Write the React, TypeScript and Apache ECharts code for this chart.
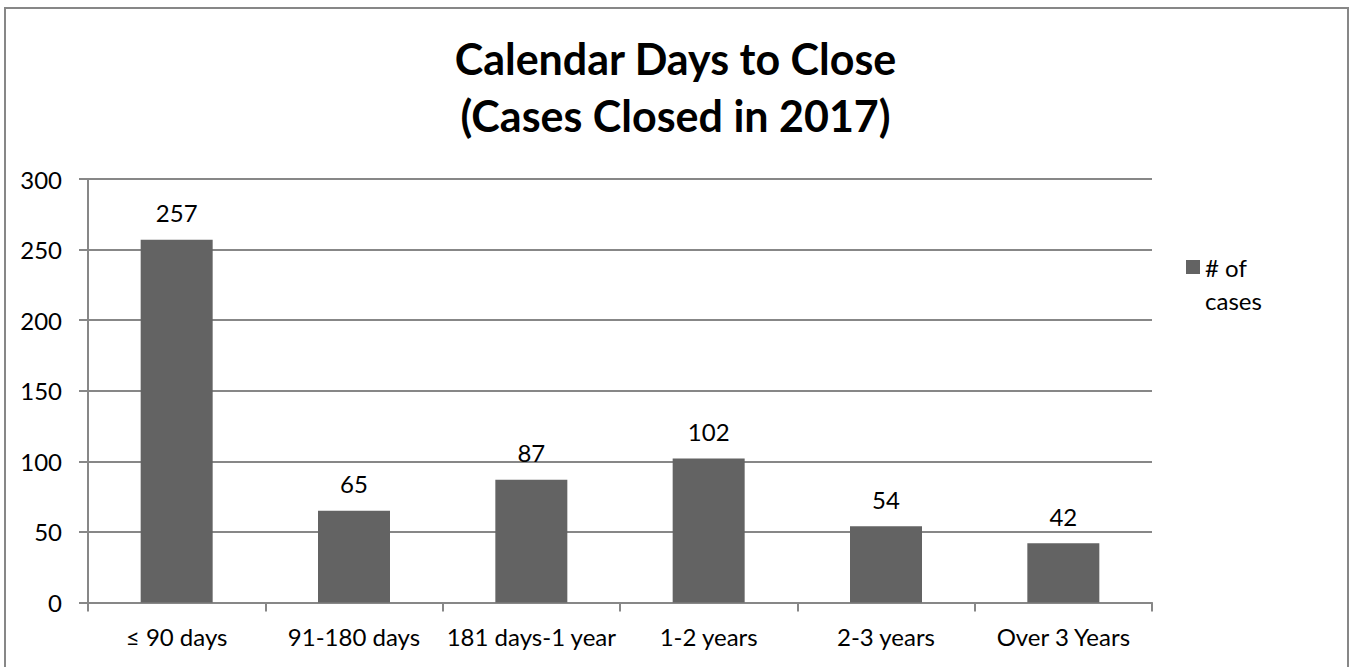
import React, { useEffect, useRef } from "react";
import * as echarts from "echarts";

const categories = ["≤ 90 days", "91-180 days", "181 days-1 year", "1-2 years", "2-3 years", "Over 3 Years"];
const caseCounts = [257, 65, 87, 102, 54, 42];
const seriesName = "# of cases";
const legendLines = [" ", "# of", "cases"];
const titleLines = ["Calendar Days to Close", "(Cases Closed in 2017)"];
const yMin = 0;
const yMax = 300;
const yInterval = 50;

const FONT = "Lato";
const GRID_COLOR = "#878787";
const BAR_COLOR = "#636363";

export default function App() {
  const ref = useRef<HTMLDivElement>(null);
  useEffect(() => {
    if (!ref.current) return;
    const chart = echarts.init(ref.current, undefined, { renderer: "svg" });
    chart.setOption({
      animation: false,
      backgroundColor: "#ffffff",
      textStyle: { fontFamily: FONT },
      title: {
        text: titleLines.join("\n"),
        left: "center",
        top: 25,
        textStyle: {
          fontFamily: FONT,
          fontWeight: "bold",
          fontSize: 43,
          lineHeight: 57,
          color: "#000000",
        },
      },
      legend: {
        show: true,
        left: 1186,
        top: 217.5,
        padding: 0,
        orient: "vertical",
        itemWidth: 14,
        itemHeight: 14,
        icon: "rect",
        data: [seriesName],
        formatter: () => legendLines.join("\n"),
        textStyle: {
          fontFamily: FONT,
          fontSize: 24,
          lineHeight: 33,
          color: "#000000",
        },
      },
      grid: {
        left: 88,
        right: 199,
        top: 179,
        bottom: 667 - 602.5,
        containLabel: false,
      },
      xAxis: {
        type: "category",
        data: categories,
        axisLine: { show: true, lineStyle: { color: GRID_COLOR, width: 2 } },
        axisTick: { show: true, length: 9, lineStyle: { color: GRID_COLOR, width: 2 } },
        axisLabel: { fontFamily: FONT, fontSize: 24, color: "#000000", margin: 22, interval: 0 },
      },
      yAxis: {
        type: "value",
        min: yMin,
        max: yMax,
        interval: yInterval,
        axisLine: { show: true, lineStyle: { color: GRID_COLOR, width: 2 } },
        axisTick: { show: true, length: 9, lineStyle: { color: GRID_COLOR, width: 2 } },
        splitLine: { show: true, lineStyle: { color: GRID_COLOR, width: 2 } },
        axisLabel: { fontFamily: FONT, fontSize: 24, color: "#000000", margin: 26 },
      },
      series: [
        {
          name: seriesName,
          type: "bar",
          data: caseCounts,
          barWidth: "40.6%",
          itemStyle: { color: BAR_COLOR },
          label: {
            show: true,
            position: "top",
            distance: 15,
            fontFamily: FONT,
            fontSize: 24,
            color: "#000000",
          },
        },
      ],
      graphic: [
        {
          type: "rect",
          shape: { x: 5, y: 8, width: 1343, height: 700 },
          style: { fill: "none", stroke: GRID_COLOR, lineWidth: 2 },
          silent: true,
          z: 100,
        },
      ],
    });
    return () => chart.dispose();
  }, []);
  return (
    <div
      ref={ref}
      style={{ position: "absolute", left: 0, top: 0, width: 1351, height: 667 }}
    />
  );
}
